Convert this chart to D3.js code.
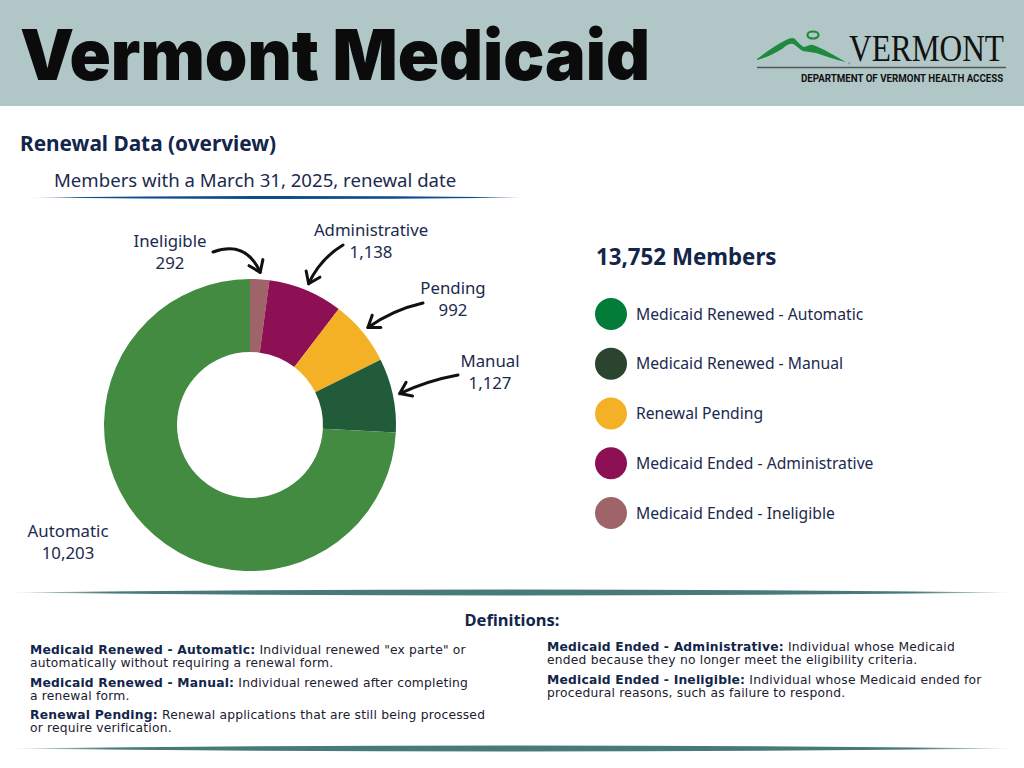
<!DOCTYPE html>
<html>
<head>
<meta charset="utf-8">
<script src="https://cdn.jsdelivr.net/npm/d3@7"></script>
<style>
  html, body { margin: 0; padding: 0; background: #fff; }
  svg { display: block; }
</style>
</head>
<body>
<div id="container"></div>
<script>
// chart data
const categories = ['Ineligible', 'Administrative', 'Pending', 'Manual', 'Automatic'];
const members = [292, 1138, 992, 1127, 10203];
const sliceColors = ['#9e6468', '#8d0f54', '#f5b125', '#225b3a', '#428b41'];

const legendLabels = ['Medicaid Renewed - Automatic', 'Medicaid Renewed - Manual', 'Renewal Pending',
    'Medicaid Ended - Administrative', 'Medicaid Ended - Ineligible'];
const legendColors = ['#037b39', '#2a4430', '#f5b125', '#8d0f54', '#9e6468'];

const defTerms = ['Medicaid Renewed - Automatic:', 'Medicaid Renewed - Manual:', 'Renewal Pending:',
    'Medicaid Ended - Administrative:', 'Medicaid Ended - Ineligible:'];
const defTexts = [
    [' Individual renewed "ex parte" or', 'automatically without requiring a renewal form.'],
    [' Individual renewed after completing', 'a renewal form.'],
    [' Renewal applications that are still being processed', 'or require verification.'],
    [' Individual whose Medicaid', 'ended because they no longer meet the eligibility criteria.'],
    [' Individual whose Medicaid ended for', 'procedural reasons, such as failure to respond.']
];

const W = 1024, H = 768;
const navy = '#1b2a4e';
const fmt = d3.format(',');

const svg = d3.select('#container')
    .append('svg')
    .attr('width', W)
    .attr('height', H)
    .attr('viewBox', `0 0 ${W} ${H}`);

const defs = svg.append('defs');

// header band
svg.append('rect')
    .attr('x', 0).attr('y', 0)
    .attr('width', W).attr('height', 106)
    .attr('fill', '#b1c7c7');

svg.append('text')
    .attr('x', 20).attr('y', 80)
    .attr('font-family', 'Inter, sans-serif')
    .attr('font-weight', 900)
    .attr('font-size', 70)
    .attr('textLength', 630)
    .attr('lengthAdjust', 'spacingAndGlyphs')
    .attr('fill', '#0b0b0b')
    .text('Vermont Medicaid');

// logo
const logo = svg.append('g');
logo.append('path')
    .attr('d', 'M757,59 C766,52 776,45 786,40 C790,38 793,37 795,39 C798,42 801,46 804,47 C807,47 810,44 813,45 C822,48 833,55 846,62 C836,60 826,56 816,53 C811,52 807,52 803,51 C799,49 796,45 793,44 C789,43 786,46 782,49 C774,54 765,58 757,60 Z')
    .attr('fill', '#1e8a3e');
logo.append('ellipse')
    .attr('cx', 813).attr('cy', 35).attr('rx', 5.5).attr('ry', 3.5)
    .attr('fill', 'none').attr('stroke', '#1e8a3e').attr('stroke-width', 2.2);
logo.append('text')
    .attr('x', 848).attr('y', 65)
    .attr('font-size', 3)
    .attr('fill', '#333')
    .text('®');
logo.append('text')
    .attr('transform', 'translate(849,61) scale(0.825,1)')
    .attr('font-family', 'Liberation Serif, serif')
    .attr('font-size', 38)
    .attr('fill', '#111')
    .text('VERMONT');
logo.append('line')
    .attr('x1', 757).attr('x2', 1006).attr('y1', 67.5).attr('y2', 67.5)
    .attr('stroke', '#555').attr('stroke-width', 1.5);
logo.append('text')
    .attr('transform', 'translate(801,82) scale(0.885,1)')
    .attr('font-family', 'Roboto, sans-serif')
    .attr('font-weight', 'bold')
    .attr('font-size', 11)
    .attr('fill', '#111')
    .text('DEPARTMENT OF VERMONT HEALTH ACCESS');

// section heading
svg.append('text')
    .attr('x', 20).attr('y', 151)
    .attr('font-family', 'Noto Sans, sans-serif')
    .attr('font-weight', 'bold')
    .attr('font-size', 20.8)
    .attr('fill', '#12254a')
    .text('Renewal Data (overview)');

svg.append('text')
    .attr('x', 54).attr('y', 187)
    .attr('font-family', 'Noto Sans, sans-serif')
    .attr('font-size', 18.6)
    .attr('fill', navy)
    .text('Members with a March 31, 2025, renewal date');

// tapered rules
function taper(id, color, x1, x2, y, th) {
    const gr = defs.append('linearGradient').attr('id', id);
    gr.append('stop').attr('offset', '0%').attr('stop-color', color).attr('stop-opacity', 0.2);
    gr.append('stop').attr('offset', '10%').attr('stop-color', color).attr('stop-opacity', 1);
    gr.append('stop').attr('offset', '90%').attr('stop-color', color).attr('stop-opacity', 1);
    gr.append('stop').attr('offset', '100%').attr('stop-color', color).attr('stop-opacity', 0.2);
    const mid = (x1 + x2) / 2;
    svg.append('path')
        .attr('d', `M${x1},${y} Q${mid},${y - th} ${x2},${y} Q${mid},${y + th} ${x1},${y} Z`)
        .attr('fill', `url(#${id})`);
}
taper('g1', '#0d4d8c', 30, 522, 197.5, 3);
taper('g2', '#477a78', 10, 1014, 592.5, 6);
taper('g3', '#477a78', 10, 1014, 748.5, 6);

// donut
const cx = 250, cy = 425, outerR = 146, innerR = 73;
const pie = d3.pie().sort(null).value(d => d)(members);
const arc = d3.arc().innerRadius(innerR).outerRadius(outerR);

const chart = svg.append('g').attr('transform', `translate(${cx},${cy})`);
chart.selectAll('path.slice')
    .data(pie)
    .enter()
    .append('path')
    .attr('class', 'slice')
    .attr('d', arc)
    .attr('fill', (d, i) => sliceColors[i]);

// label placement (layout, relative to donut centre)
const labelLayout = [
    { lx: -80, ly: -178, ax: -37, ay: -173, bend: -12 },
    { lx: 121, ly: -189, ax: 93, ay: -180, bend: 4 },
    { lx: 203, ly: -131, ax: 173, ay: -122, bend: 3 },
    { lx: 240, ly: -58, ax: 208, ay: -50, bend: 2 },
    { lx: -182, ly: 112, ax: null }
];

const labels = chart.append('g')
    .attr('font-family', 'Noto Sans, sans-serif')
    .attr('font-size', 16.8)
    .attr('text-anchor', 'middle')
    .attr('fill', navy);

pie.forEach((d, i) => {
    const L = labelLayout[i];
    const t = labels.append('text')
        .attr('x', L.lx).attr('y', L.ly);
    t.append('tspan').attr('x', L.lx).text(categories[i]);
    t.append('tspan').attr('x', L.lx).attr('dy', 22).text(fmt(members[i]));

    if (L.ax === null) return;
    const mid = (d.startAngle + d.endAngle) / 2;
    const tip = [(outerR + 7) * Math.sin(mid), -(outerR + 7) * Math.cos(mid)];
    const start = [L.ax, L.ay];
    const dx = tip[0] - start[0], dy = tip[1] - start[1];
    const len = Math.hypot(dx, dy);
    const nx = -dy / len, ny = dx / len;
    const ctrl = [(start[0] + tip[0]) / 2 + nx * L.bend * 2, (start[1] + tip[1]) / 2 + ny * L.bend * 2];
    chart.append('path')
        .attr('d', `M${start[0]},${start[1]} Q${ctrl[0]},${ctrl[1]} ${tip[0]},${tip[1]}`)
        .attr('fill', 'none').attr('stroke', '#111').attr('stroke-width', 3)
        .attr('stroke-linecap', 'round');
    const ang = Math.atan2(tip[1] - ctrl[1], tip[0] - ctrl[0]);
    const hl = 13, spread = 0.62;
    const h1 = [tip[0] - hl * Math.cos(ang - spread), tip[1] - hl * Math.sin(ang - spread)];
    const h2 = [tip[0] - hl * Math.cos(ang + spread), tip[1] - hl * Math.sin(ang + spread)];
    chart.append('path')
        .attr('d', `M${h1[0]},${h1[1]} L${tip[0]},${tip[1]} L${h2[0]},${h2[1]}`)
        .attr('fill', 'none').attr('stroke', '#111').attr('stroke-width', 3)
        .attr('stroke-linecap', 'round').attr('stroke-linejoin', 'round');
});

// legend
const legend = svg.append('g')
    .attr('font-family', 'Noto Sans, sans-serif')
    .attr('fill', navy);

legend.append('text')
    .attr('x', 596).attr('y', 265)
    .attr('font-weight', 'bold')
    .attr('font-size', 22.3)
    .attr('fill', '#12254a')
    .text(fmt(d3.sum(members)) + ' Members');

const ly = d3.scalePoint().domain(legendLabels).range([314, 513]);
const items = legend.selectAll('g.item')
    .data(legendLabels)
    .enter()
    .append('g')
    .attr('class', 'item')
    .attr('transform', d => `translate(611,${ly(d)})`);
items.append('circle')
    .attr('r', 16)
    .attr('fill', (d, i) => legendColors[i]);
items.append('text')
    .attr('x', 25).attr('y', 5.5)
    .attr('font-size', 15.7)
    .text(d => d);

// definitions
svg.append('text')
    .attr('x', 512).attr('y', 626)
    .attr('text-anchor', 'middle')
    .attr('font-family', 'Noto Sans, sans-serif')
    .attr('font-weight', 'bold')
    .attr('font-size', 16.5)
    .attr('fill', '#12254a')
    .text('Definitions:');

const defPos = [[30, 654], [30, 687], [30, 719], [547, 651], [547, 684]];
const defG = svg.append('g')
    .attr('font-family', 'DejaVu Sans, sans-serif')
    .attr('font-size', 12.3)
    .attr('letter-spacing', 0.2)
    .attr('fill', '#1c2030');
defTerms.forEach((term, i) => {
    const [x, y] = defPos[i];
    const t = defG.append('text').attr('x', x).attr('y', y);
    t.append('tspan').attr('font-weight', 'bold').attr('fill', '#12254a').text(term);
    t.append('tspan').text(defTexts[i][0]);
    defG.append('text').attr('x', x).attr('y', y + 12.5).text(defTexts[i][1]);
});
</script>
</body>
</html>
